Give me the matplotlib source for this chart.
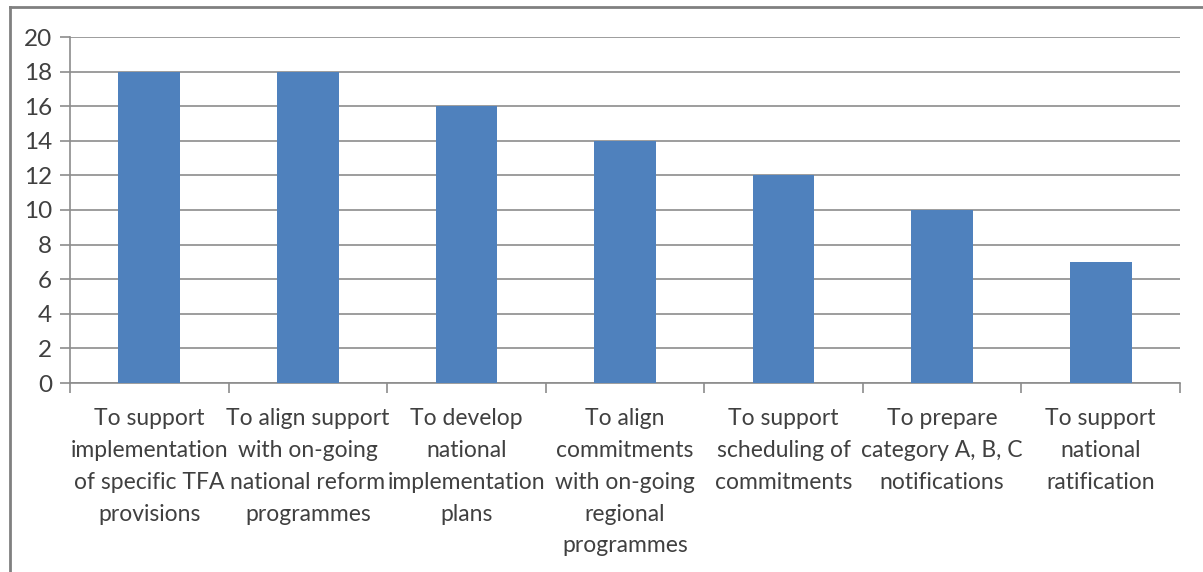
import matplotlib
matplotlib.use("Agg")
import matplotlib.pyplot as plt
from matplotlib.lines import Line2D

categories = [
    "To support\nimplementation\nof specific TFA\nprovisions",
    "To align support\nwith on-going\nnational reform\nprogrammes",
    "To develop\nnational\nimplementation\nplans",
    "To align\ncommitments\nwith on-going\nregional\nprogrammes",
    "To support\nscheduling of\ncommitments",
    "To prepare\ncategory A, B, C\nnotifications",
    "To support\nnational\nratification",
]
values = [18, 18, 16, 14, 12, 10, 7]
yticks = list(range(0, 21, 2))

plt.rcParams['font.family'] = ['Lato', 'DejaVu Sans']
W, H = 1203, 572
fig = plt.figure(figsize=(W/100, H/100), dpi=100)
ax = fig.add_axes([70/W, 1-383/H, (1180-70)/W, (383-37)/H])

n = len(categories)
xs = list(range(n))
ax.bar(xs, values, width=0.39, color="#4F81BD", zorder=3)
ax.set_xlim(-0.5, n-0.5)
ax.set_ylim(0, 20)
ax.set_yticks(yticks)
ax.set_yticklabels([str(t) for t in yticks], fontsize=17.5, color="#404040")
ax.yaxis.grid(True, color="#8c8c8c", linewidth=1.2, zorder=0)
ax.set_axisbelow(True)

ax.set_xticks([i - 0.5 for i in range(n+1)])
ax.set_xticklabels([])
ax.tick_params(axis='x', length=7, color="#8c8c8c", width=1.2)
ax.tick_params(axis='y', length=7, color="#8c8c8c", width=1.2, pad=6)
for i, c in enumerate(categories):
    ax.text(i, -1.47, c, ha='center', va='top', fontsize=16.5, color="#404040",
            linespacing=1.63, transform=ax.transData)

for s in ['top', 'right']:
    ax.spines[s].set_visible(False)
for s in ['left', 'bottom']:
    ax.spines[s].set_color("#8c8c8c")
    ax.spines[s].set_linewidth(1.2)

# outer chart border (top and left edges visible)
fig.add_artist(Line2D([10/W, 10/W], [0, 1-7/H], transform=fig.transFigure, color="#808080", linewidth=2))
fig.add_artist(Line2D([10/W, 1], [1-7/H, 1-7/H], transform=fig.transFigure, color="#808080", linewidth=2))

fig.savefig("out.png", dpi=100)
